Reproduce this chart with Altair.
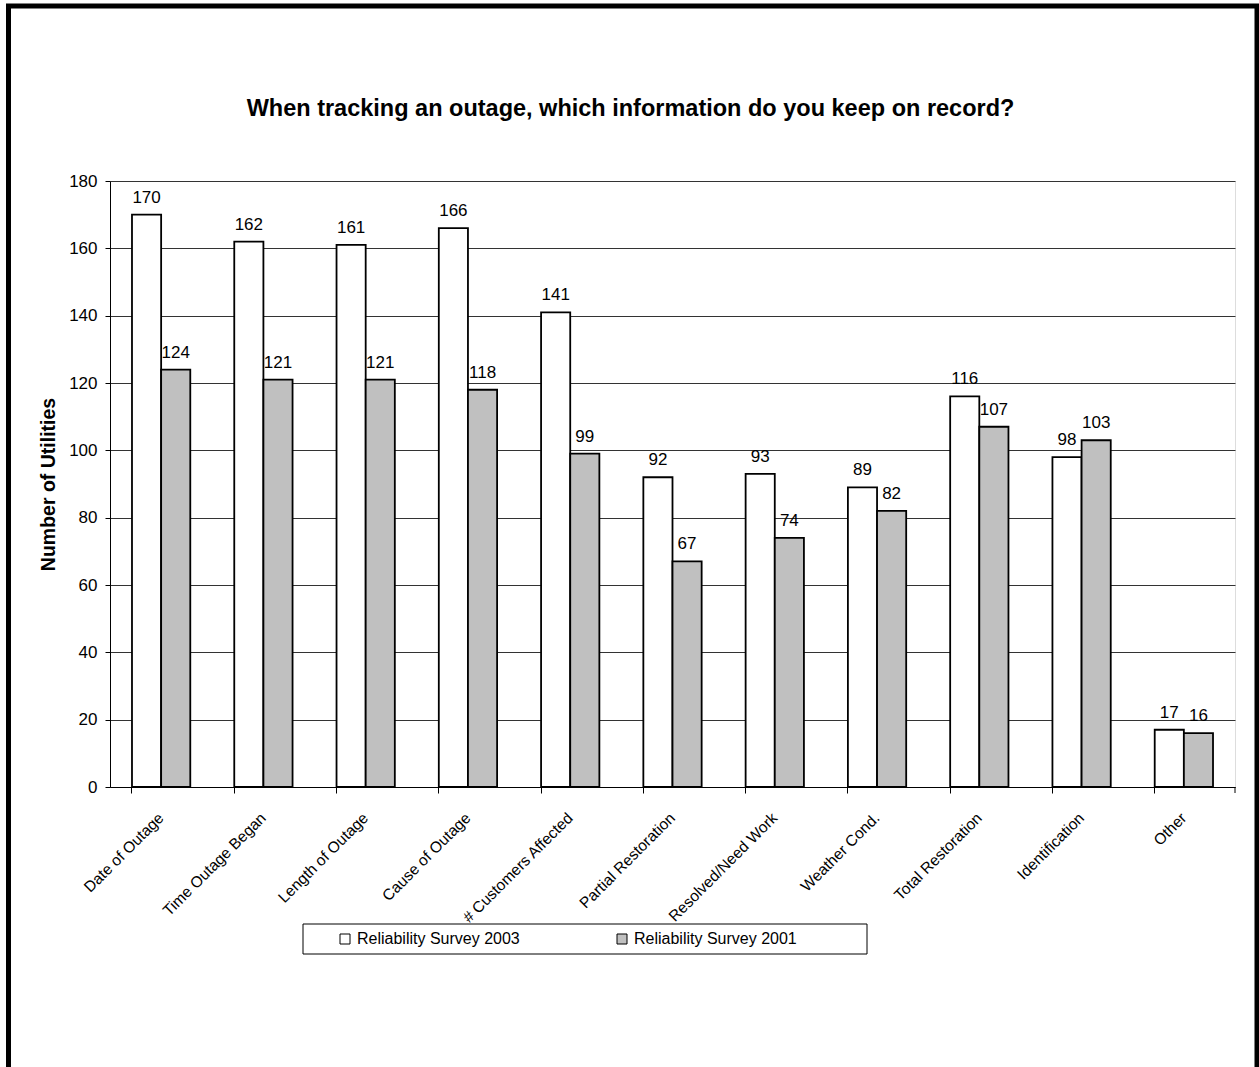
import altair as alt
import pandas as pd

# Survey answers: how many utilities keep each piece of outage information
categories = [
    "Date of Outage",
    "Time Outage Began",
    "Length of Outage",
    "Cause of Outage",
    "# Customers Affected",
    "Partial Restoration",
    "Resolved/Need Work",
    "Weather Cond.",
    "Total Restoration",
    "Identification",
    "Other",
]
survey_2003 = [170, 162, 161, 166, 141, 92, 93, 89, 116, 98, 17]
survey_2001 = [124, 121, 121, 118, 99, 67, 74, 82, 107, 103, 16]
series = ["Reliability Survey 2003", "Reliability Survey 2001"]
fills = ["#ffffff", "#c0c0c0"]
y_ticks = [0, 20, 40, 60, 80, 100, 120, 140, 160, 180]

title_text = "When tracking an outage, which information do you keep on record?"
y_title = "Number of Utilities"

rows = []
for cat, v03, v01 in zip(categories, survey_2003, survey_2001):
    rows.append({"item": cat, "series": series[0], "count": v03})
    rows.append({"item": cat, "series": series[1], "count": v01})
df = pd.DataFrame(rows)

FONT = "Liberation Sans"
W, H = 1125, 606
LEG_X, LEG_Y, LEG_W, LEG_H = 193, 743, 564, 30

x_enc = alt.X(
    "item:N",
    sort=categories,
    title=None,
    scale=alt.Scale(paddingInner=0.43, paddingOuter=0.215),
    axis=alt.Axis(
        labelAngle=-45,
        labelAlign="right",
        labelBaseline="middle",
        labelFont=FONT,
        labelFontSize=15.5,
        labelColor="black",
        labelPadding=22,
        labelLimit=400,
        tickSize=6,
        tickColor="black",
        domainColor="black",
        bandPosition=0,
        grid=False,
    ),
)
xo_enc = alt.XOffset(
    "series:N", sort=series, scale=alt.Scale(paddingInner=0, paddingOuter=0)
)
y_enc = alt.Y(
    "count:Q",
    title=y_title,
    scale=alt.Scale(domain=[0, 180], nice=False),
    axis=alt.Axis(
        values=y_ticks,
        labelFont=FONT,
        labelFontSize=17,
        labelColor="black",
        labelPadding=8,
        tickSize=5,
        tickColor="black",
        domainColor="black",
        gridColor="#333333",
        gridWidth=1,
        titleFont=FONT,
        titleFontSize=19.5,
        titleFontWeight="bold",
        titleColor="black",
        titlePadding=10,
    ),
)

base = alt.Chart(df)

bars = base.mark_bar(stroke="black", strokeWidth=1.8).encode(
    x=x_enc,
    xOffset=xo_enc,
    y=y_enc,
    color=alt.Color(
        "series:N",
        sort=series,
        scale=alt.Scale(domain=series, range=fills),
        legend=alt.Legend(
            title=None,
            orient="none",
            legendX=LEG_X,
            legendY=LEG_Y,
            direction="horizontal",
            symbolType="square",
            symbolSize=100,
            symbolStrokeColor="black",
            symbolStrokeWidth=1,
            symbolOffset=27,
            labelFont=FONT,
            labelFontSize=16,
            labelColor="black",
            labelOffset=4,
            labelLimit=400,
            columnPadding=67,
            padding=7,
        ),
    ),
)

labels = base.mark_text(
    baseline="alphabetic", dy=-12, fontSize=17, font=FONT, color="black"
).encode(x=x_enc, xOffset=xo_enc, y=y_enc, text="count:Q")

one_row = pd.DataFrame({"k": [0]})

# closing tick at the right end of the category axis
end_tick = (
    alt.Chart(one_row)
    .mark_rule(color="black", strokeWidth=1)
    .encode(x=alt.value(W), y=alt.value(H), y2=alt.value(H + 6))
)

# box drawn around the legend entries
legend_box = (
    alt.Chart(one_row)
    .mark_rect(fillOpacity=0, stroke="black", strokeWidth=1)
    .encode(
        x=alt.value(LEG_X),
        x2=alt.value(LEG_X + LEG_W),
        y=alt.value(LEG_Y),
        y2=alt.value(LEG_Y + LEG_H),
    )
)

# outer border around the whole figure
frame = (
    alt.Chart(one_row)
    .mark_rect(fillOpacity=0, stroke="black", strokeWidth=5)
    .encode(
        x=alt.value(-101.5),
        x2=alt.value(1147),
        y=alt.value(-175),
        y2=alt.value(905),
    )
)

chart = (
    alt.layer(bars, labels, end_tick, legend_box, frame)
    .properties(
        width=W,
        height=H,
        padding={"left": 110, "top": 181, "right": 24, "bottom": 280},
        autosize=alt.AutoSizeParams(type="none"),
        title=alt.TitleParams(
            text=title_text,
            font=FONT,
            fontSize=23.5,
            fontWeight="bold",
            color="black",
            anchor="middle",
            frame="group",
            dx=-42,
            # the border rectangle sets the top of the bounds, so step back inside it
            offset=-135.5,
            baseline="alphabetic",
        ),
    )
    .configure_view(stroke="black", strokeWidth=1)
    .configure(background="white")
)

chart.save("out.html", embed_options={"renderer": "svg", "actions": False})
